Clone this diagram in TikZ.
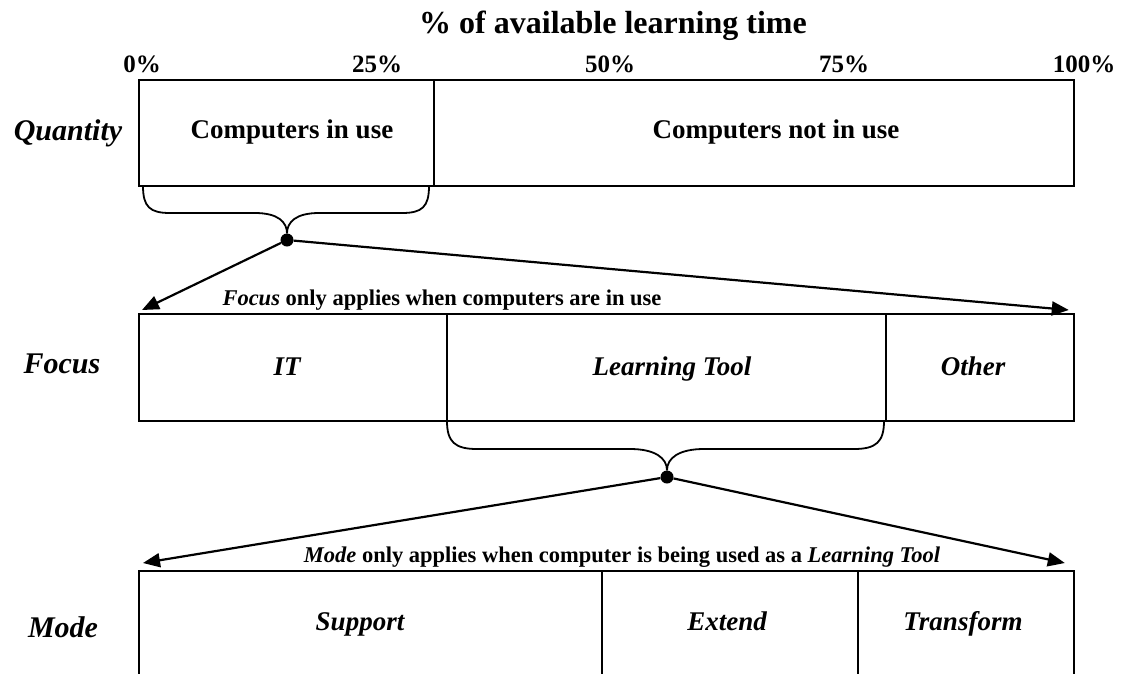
\documentclass[tikz,border=0pt]{standalone}
\usepackage{fontspec}
\setmainfont{Liberation Serif}
\usetikzlibrary{arrows.meta}
\begin{document}
\begin{tikzpicture}[x=1pt, y=-1pt,
		cell/.style={draw, line width=1.8pt, inner sep=0pt, anchor=north west},
		lab/.style={font=\fontsize{27}{30}\selectfont\bfseries, anchor=base},
		side/.style={font=\fontsize{30}{33}\selectfont\bfseries\itshape, anchor=base},
		pct/.style={font=\fontsize{25}{28}\selectfont\bfseries, anchor=base},
		note/.style={font=\fontsize{22.5}{25}\selectfont\bfseries, anchor=base},
		dot/.style={circle, fill, inner sep=0pt, minimum size=13pt},
		brace/.style={line width=1.8pt},
		arr/.style={line width=2.2pt, -{Triangle[length=17pt, width=14pt]}}]
		\useasboundingbox (0,0) rectangle (1125,673);
		
		% Title and scale
		\node[font=\fontsize{32}{35}\selectfont\bfseries, anchor=base] (title) at (613,33) {\% of available learning time};
		\node[pct] (p0) at (142,72) {0\%};
		\node[pct] (p25) at (377,72) {25\%};
		\node[pct] (p50) at (610,72) {50\%};
		\node[pct] (p75) at (844,72) {75\%};
		\node[pct] (p100) at (1084,72) {100\%};
		
		% Quantity
		\node[side] (quantity) at (68,140) {Quantity};
		\node[cell, minimum width=295pt, minimum height=106pt] (inuse) at (138,79) {};
		\node[cell, minimum width=640pt, minimum height=106pt] (notuse) at (433,79) {};
		\node[lab] (tinuse) at (292,138) {Computers in use};
		\node[lab] (tnotuse) at (776,138) {Computers not in use};
		
		% Brace under computers in use
		\node[dot] (d1) at (287,240) {};
		\draw[brace] (143,186) .. controls (143,207) and (150,213) .. (170,213) -- (255,213) .. controls (278,213) and (287,222) .. (d1);
		\draw[brace] (429,186) .. controls (429,207) and (422,213) .. (402,213) -- (319,213) .. controls (296,213) and (287,222) .. (d1);
		
		% Focus
		\node[side] (focus) at (62,373) {Focus};
		\node[cell, minimum width=308pt, minimum height=107pt] (it) at (138,313) {};
		\node[cell, minimum width=439pt, minimum height=107pt] (ltool) at (446,313) {};
		\node[cell, minimum width=188pt, minimum height=107pt] (other) at (885,313) {};
		\node[lab, font=\fontsize{27}{30}\selectfont\bfseries\itshape] (tit) at (287,375) {IT};
		\node[lab, font=\fontsize{27}{30}\selectfont\bfseries\itshape] (tltool) at (672,375) {Learning Tool};
		\node[lab, font=\fontsize{27}{30}\selectfont\bfseries\itshape] (tother) at (973,375) {Other};
		\node[note] (nfocus) at (442,305) {\textit{Focus} only applies when computers are in use};
		\draw[arr] (d1) -- ([xshift=4pt, yshift=3pt]it.north west);
		\draw[arr] (d1) -- ([xshift=-6pt, yshift=3pt]other.north east);
		
		% Brace under learning tool
		\node[dot] (d2) at (667,477) {};
		\draw[brace] (447,421) .. controls (447,442) and (455,449) .. (477,449) -- (630,449) .. controls (655,449) and (667,458) .. (d2);
		\draw[brace] (884,421) .. controls (884,442) and (876,449) .. (854,449) -- (704,449) .. controls (679,449) and (667,458) .. (d2);
		
		% Mode
		\node[side] (mode) at (63,637) {Mode};
		\node[cell, minimum width=463pt, minimum height=130pt] (support) at (138,570) {};
		\node[cell, minimum width=256pt, minimum height=130pt] (extend) at (601,570) {};
		\node[cell, minimum width=216pt, minimum height=130pt] (transform) at (857,570) {};
		\node[lab, font=\fontsize{27}{30}\selectfont\bfseries\itshape] (tsupport) at (360,630) {Support};
		\node[lab, font=\fontsize{27}{30}\selectfont\bfseries\itshape] (textend) at (727,630) {Extend};
		\node[lab, font=\fontsize{27}{30}\selectfont\bfseries\itshape] (ttransform) at (963,630) {Transform};
		\node[note] (nmode) at (622,562) {\textit{Mode} only applies when computer is being used as a \textit{Learning Tool}};
		\draw[arr] (d2) -- ([xshift=5pt, yshift=7pt]support.north west);
		\draw[arr] (d2) -- ([xshift=-10pt, yshift=7pt]transform.north east);
	\end{tikzpicture}
\end{document}
